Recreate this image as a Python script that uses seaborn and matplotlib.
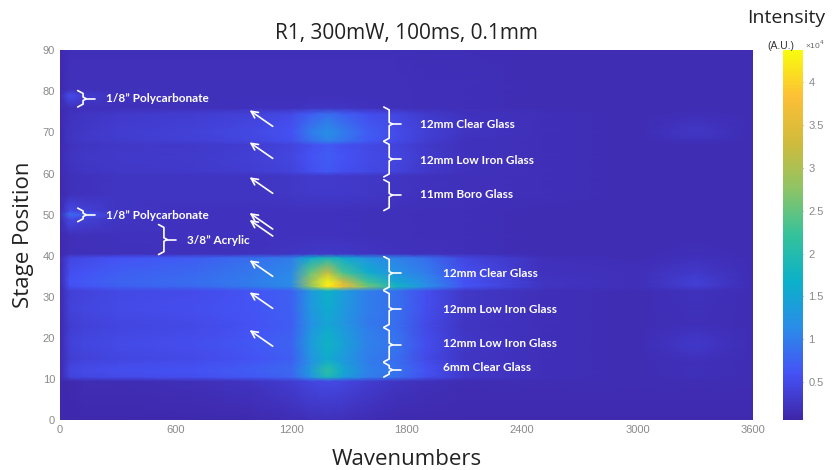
import numpy as np
import matplotlib
matplotlib.use("Agg")
import matplotlib.pyplot as plt
import seaborn as sns

# wavenumber nodes (columns) and stage position nodes (rows)
wavenumbers = [0, 50, 120, 300, 700, 1000, 1200, 1300, 1390, 1470, 1600, 1750, 1900, 2100, 2500, 3000, 3300, 3600]
stage = [0, 9.5, 10.5, 12, 14, 15, 18.5, 22.5, 23.5, 27, 31.5, 32.5, 33.5, 36, 39.5, 40.5,
         45, 49, 50, 51, 55, 59.5, 60.5, 64, 67, 68, 70, 74.5, 76, 79, 80.5, 90]

# intensity, x10^4 A.U., one row per stage node
intensity = [
    [0.10, 0.10, 0.10, 0.10, 0.10, 0.12, 0.15, 0.18, 0.18, 0.18, 0.15, 0.12, 0.12, 0.12, 0.12, 0.12, 0.12, 0.12],
    [0.10, 0.12, 0.14, 0.15, 0.18, 0.25, 0.35, 0.45, 0.50, 0.45, 0.35, 0.25, 0.20, 0.15, 0.15, 0.15, 0.15, 0.15],
    [0.12, 0.40, 0.45, 0.50, 0.55, 0.65, 0.75, 1.20, 1.90, 1.40, 1.00, 0.85, 0.55, 0.30, 0.18, 0.15, 0.18, 0.15],
    [0.12, 0.45, 0.50, 0.55, 0.60, 0.70, 0.80, 1.35, 2.10, 1.55, 1.05, 0.90, 0.60, 0.30, 0.18, 0.15, 0.20, 0.15],
    [0.12, 0.40, 0.45, 0.50, 0.55, 0.65, 0.75, 1.20, 1.80, 1.40, 1.00, 0.85, 0.55, 0.30, 0.18, 0.15, 0.18, 0.15],
    [0.12, 0.35, 0.40, 0.45, 0.50, 0.60, 0.70, 1.25, 1.60, 1.35, 1.00, 0.85, 0.50, 0.25, 0.18, 0.15, 0.22, 0.15],
    [0.12, 0.40, 0.45, 0.50, 0.55, 0.65, 0.75, 1.35, 1.75, 1.45, 1.05, 0.90, 0.55, 0.28, 0.18, 0.15, 0.30, 0.15],
    [0.12, 0.35, 0.40, 0.45, 0.50, 0.60, 0.70, 1.25, 1.60, 1.35, 1.00, 0.85, 0.50, 0.25, 0.18, 0.15, 0.22, 0.15],
    [0.12, 0.35, 0.40, 0.45, 0.50, 0.60, 0.70, 1.20, 1.50, 1.30, 0.95, 0.85, 0.50, 0.25, 0.18, 0.15, 0.18, 0.15],
    [0.12, 0.40, 0.45, 0.50, 0.55, 0.62, 0.72, 1.30, 1.60, 1.35, 1.00, 0.88, 0.55, 0.28, 0.18, 0.15, 0.20, 0.15],
    [0.12, 0.38, 0.42, 0.48, 0.52, 0.62, 0.72, 1.30, 1.70, 1.40, 1.00, 0.88, 0.55, 0.28, 0.18, 0.15, 0.22, 0.15],
    [0.12, 0.55, 0.60, 0.70, 0.80, 0.95, 1.10, 2.70, 4.20, 3.60, 2.60, 1.80, 1.20, 0.60, 0.25, 0.18, 0.35, 0.15],
    [0.12, 0.60, 0.65, 0.75, 0.85, 1.00, 1.15, 2.90, 4.30, 3.40, 2.30, 1.55, 1.15, 0.60, 0.25, 0.18, 0.38, 0.15],
    [0.12, 0.55, 0.60, 0.70, 0.80, 0.95, 1.10, 2.50, 3.20, 2.30, 1.60, 1.20, 1.00, 0.55, 0.22, 0.18, 0.30, 0.15],
    [0.12, 0.45, 0.50, 0.60, 0.70, 0.85, 1.00, 1.60, 1.90, 1.60, 1.25, 1.05, 0.85, 0.45, 0.20, 0.15, 0.22, 0.15],
    [0.12, 0.18, 0.18, 0.20, 0.20, 0.22, 0.25, 0.28, 0.28, 0.28, 0.25, 0.22, 0.20, 0.18, 0.15, 0.15, 0.18, 0.15],
    [0.12, 0.18, 0.20, 0.22, 0.22, 0.22, 0.22, 0.22, 0.22, 0.22, 0.20, 0.20, 0.18, 0.18, 0.15, 0.15, 0.15, 0.15],
    [0.12, 0.50, 0.40, 0.25, 0.22, 0.22, 0.22, 0.22, 0.22, 0.22, 0.20, 0.20, 0.18, 0.18, 0.15, 0.15, 0.15, 0.15],
    [0.15, 0.85, 0.65, 0.28, 0.22, 0.22, 0.22, 0.22, 0.22, 0.22, 0.20, 0.20, 0.18, 0.18, 0.15, 0.15, 0.15, 0.15],
    [0.12, 0.50, 0.40, 0.25, 0.22, 0.22, 0.22, 0.22, 0.22, 0.22, 0.20, 0.20, 0.18, 0.18, 0.15, 0.15, 0.15, 0.15],
    [0.12, 0.20, 0.22, 0.25, 0.25, 0.25, 0.28, 0.30, 0.30, 0.30, 0.28, 0.25, 0.22, 0.20, 0.18, 0.15, 0.15, 0.15],
    [0.12, 0.20, 0.22, 0.25, 0.25, 0.25, 0.28, 0.32, 0.32, 0.30, 0.28, 0.25, 0.22, 0.20, 0.18, 0.15, 0.15, 0.15],
    [0.12, 0.22, 0.25, 0.28, 0.30, 0.35, 0.42, 0.55, 0.65, 0.55, 0.48, 0.42, 0.30, 0.22, 0.18, 0.15, 0.15, 0.15],
    [0.12, 0.25, 0.28, 0.30, 0.32, 0.38, 0.45, 0.60, 0.70, 0.60, 0.50, 0.45, 0.32, 0.22, 0.18, 0.15, 0.15, 0.15],
    [0.12, 0.22, 0.25, 0.28, 0.30, 0.35, 0.42, 0.55, 0.65, 0.55, 0.48, 0.42, 0.30, 0.22, 0.18, 0.15, 0.15, 0.15],
    [0.12, 0.25, 0.28, 0.32, 0.38, 0.45, 0.55, 0.85, 1.05, 0.90, 0.65, 0.50, 0.35, 0.22, 0.18, 0.15, 0.20, 0.15],
    [0.12, 0.25, 0.28, 0.35, 0.40, 0.48, 0.58, 1.00, 1.20, 1.00, 0.70, 0.52, 0.38, 0.25, 0.18, 0.15, 0.28, 0.15],
    [0.12, 0.22, 0.25, 0.30, 0.35, 0.40, 0.50, 0.70, 0.85, 0.72, 0.55, 0.45, 0.32, 0.22, 0.18, 0.15, 0.18, 0.15],
    [0.12, 0.18, 0.20, 0.20, 0.20, 0.22, 0.22, 0.25, 0.25, 0.25, 0.22, 0.20, 0.18, 0.18, 0.15, 0.15, 0.15, 0.15],
    [0.12, 0.55, 0.35, 0.22, 0.20, 0.20, 0.20, 0.20, 0.20, 0.20, 0.20, 0.20, 0.18, 0.18, 0.15, 0.15, 0.15, 0.15],
    [0.12, 0.20, 0.20, 0.20, 0.20, 0.20, 0.20, 0.20, 0.20, 0.20, 0.20, 0.20, 0.18, 0.18, 0.15, 0.15, 0.15, 0.15],
    [0.12, 0.18, 0.18, 0.18, 0.18, 0.18, 0.18, 0.18, 0.18, 0.18, 0.18, 0.18, 0.16, 0.16, 0.15, 0.15, 0.15, 0.15],
]

# sample labels: (text, brace bottom, brace top, brace x, text x, text y)
labels = [
    ("1/8\u201d Polycarbonate", 76.2, 80.2, 120, 240, 78.2),
    ("1/8\u201d Polycarbonate", 48.3, 51.6, 120, 240, 49.9),
    ("3/8\u201d Acrylic", 40.3, 47.6, 540, 660, 43.6),
    ("12mm Clear Glass", 67.9, 76.2, 1710, 1870, 72.0),
    ("12mm Low Iron Glass", 59.2, 67.8, 1710, 1870, 63.3),
    ("11mm Boro Glass", 51.0, 58.5, 1710, 1870, 55.0),
    ("12mm Clear Glass", 31.7, 39.8, 1710, 1990, 35.8),
    ("12mm Low Iron Glass", 22.6, 31.5, 1710, 1990, 27.0),
    ("12mm Low Iron Glass", 14.2, 22.5, 1710, 1990, 18.6),
    ("6mm Clear Glass", 10.5, 14.0, 1710, 1990, 12.7),
]
arrow_heads = [75.4, 67.6, 59.1, 50.4, 48.7, 38.9, 31.1, 21.9]

parula = ["#3e26a8", "#4552f5", "#2a8de8", "#0bb1c9", "#35c29b",
          "#8dc466", "#d0bb3c", "#fcbf36", "#f9fb0e"]
cmap = sns.blend_palette(parula, as_cmap=True)

sns.set_style("white")
plt.rcParams["font.family"] = ["Liberation Sans", "DejaVu Sans"]
tick_color = "#8a8a8a"


def draw_brace(ax, x, y0, y1, w=28, tick=45):
    ym = (y0 + y1) / 2
    d = 0.7
    xs = [x - w, x, x, x + w * 0.6, x, x, x - w]
    ys = [y1, y1 - d, ym + d * 0.6, ym, ym - d * 0.6, y0 + d, y0]
    ax.plot(xs, ys, color="white", lw=1.2, solid_joinstyle="round", solid_capstyle="round")
    ax.plot([x + w * 0.6, x + w * 0.6 + tick], [ym, ym], color="white", lw=1.2)


fig = plt.figure(figsize=(8.33, 4.70), dpi=100)
ax = fig.add_axes([0.072, 0.106, 0.832, 0.787])
cax = fig.add_axes([0.940, 0.106, 0.024, 0.787])

mesh = ax.pcolormesh(wavenumbers, stage, np.array(intensity), shading="gouraud",
                     cmap=cmap, vmin=0.055, vmax=4.375, rasterized=True)
ax.set_xlim(0, 3600)
ax.set_ylim(0, 90)
ax.set_xticks([0, 600, 1200, 1800, 2400, 3000, 3600])
ax.set_yticks(range(0, 91, 10))
ax.tick_params(axis="both", colors=tick_color, labelsize=8, length=0)
for s in ax.spines.values():
    s.set_visible(False)

ax.set_xlabel("Wavenumbers", fontsize=16, family="Open Sans", color="#222222", labelpad=10)
ax.set_ylabel("Stage Position", fontsize=16, family="Open Sans", color="#222222", labelpad=6)
ax.set_title("R1, 300mW, 100ms, 0.1mm", fontsize=15, family="Open Sans", color="#222222", pad=8)

for text, y0, y1, bx, tx, ty in labels:
    draw_brace(ax, bx, y0, y1)
    ax.text(tx, ty, text, color="white", fontsize=8.5, family="Lato", fontweight="bold",
            va="center", ha="left")

for yh in arrow_heads:
    ax.annotate("", xy=(985, yh), xytext=(1105, yh - 3.9),
                arrowprops=dict(arrowstyle="->", color="white", lw=1.2,
                                mutation_scale=12, shrinkA=0, shrinkB=0))

cb = fig.colorbar(mesh, cax=cax)
cb.outline.set_visible(False)
cb.set_ticks([0.5, 1, 1.5, 2, 2.5, 3, 3.5, 4])
cb.set_ticklabels(["0.5", "1", "1.5", "2", "2.5", "3", "3.5", "4"])
cax.tick_params(colors=tick_color, labelsize=8, length=3, direction="in", pad=4)

fig.text(0.944, 0.962, "Intensity", fontsize=14, family="Open Sans", color="#222222", ha="center", va="center")
fig.text(0.938, 0.902, "(A.U.)", fontsize=7.5, color="#333333", ha="center", va="center")
fig.text(0.978, 0.905, "\u00d710$^4$", fontsize=6, color="#666666", ha="center", va="center")

fig.savefig("out.png", dpi=100)
